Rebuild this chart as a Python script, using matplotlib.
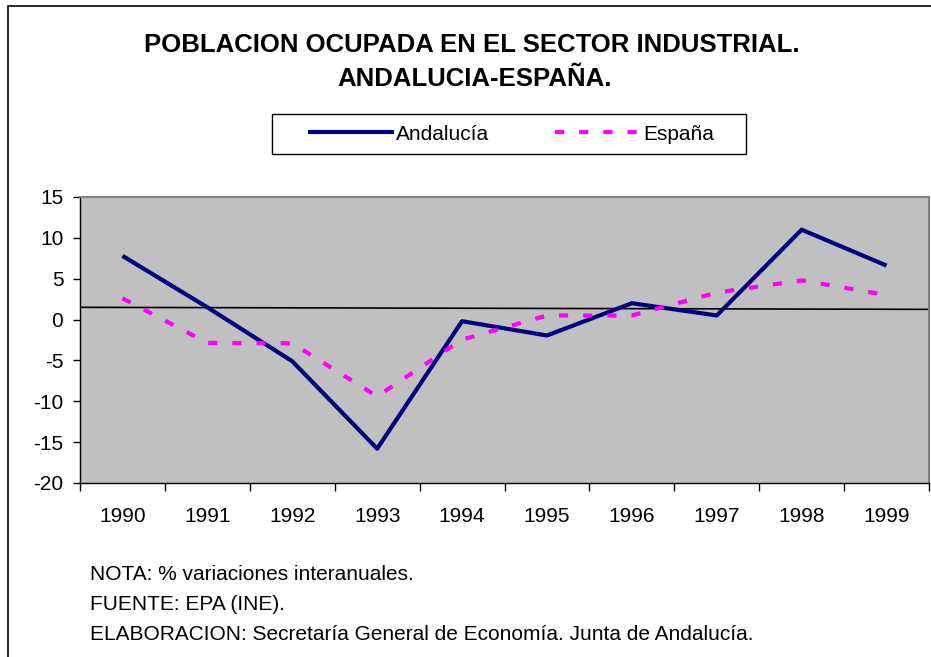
import matplotlib.pyplot as plt
import numpy as np
from matplotlib.patches import Rectangle

# Data (% interannual variation)
years = ['1990', '1991', '1992', '1993', '1994', '1995', '1996', '1997', '1998', '1999']
andalucia = [7.8, 1.5, -5.1, -15.8, -0.2, -1.95, 2.0, 0.5, 11.0, 6.6]
espana = [2.6, -2.85, -2.9, -9.4, -2.45, 0.5, 0.5, 3.3, 4.8, 3.0]
ref_line = [1.5, 1.25]  # thin black reference line (left edge, right edge)
yticks = [-20, -15, -10, -5, 0, 5, 10, 15]

plt.rcParams['font.family'] = ['Liberation Sans', 'DejaVu Sans']

W, H = 931, 657
fig = plt.figure(figsize=(W / 100, H / 100), dpi=100)

# outer frame (cropped at right and bottom)
fig.patches.append(Rectangle((8 / W, -0.1), 1.2, 1 - 6 / H + 0.1,
                             transform=fig.transFigure, fill=False,
                             edgecolor='black', linewidth=1.2))

ax = fig.add_axes([80 / W, 1 - 483 / H, 849 / W, 286 / H])
ax.set_facecolor('#C0C0C0')

x = np.arange(len(years))
ax.plot([-0.5, len(years) - 0.5], ref_line, color='black', linewidth=1.2, zorder=2)
ax.plot(x, andalucia, color='#000080', linewidth=3.0, label='Andalucía',
        solid_capstyle='butt', zorder=3)
ax.plot(x, espana, color='#FF00FF', linewidth=3.0, dashes=(2.2, 3.6),
        label='España', zorder=3)

ax.set_xlim(-0.5, len(years) - 0.5)
ax.set_ylim(-20, 15)
ax.set_yticks(yticks)
ax.set_yticklabels([str(v) for v in yticks], fontsize=15)
ax.set_xticks(x)
ax.set_xticklabels(years, fontsize=15)
ax.set_xticks(np.arange(-0.5, len(years), 1), minor=True)
ax.tick_params(axis='x', which='major', length=0, pad=17)
ax.tick_params(axis='x', which='minor', length=6, width=1, direction='out')
ax.tick_params(axis='y', length=5, width=1, direction='out', pad=7)

for side in ['top', 'right']:
    ax.spines[side].set_color('#808080')
    ax.spines[side].set_linewidth(1.5)
for side in ['left', 'bottom']:
    ax.spines[side].set_color('black')
    ax.spines[side].set_linewidth(1.0)

fig.text(472 / W, 1 - 45 / H, 'POBLACION OCUPADA EN EL SECTOR INDUSTRIAL.',
         ha='center', va='center', fontsize=18.5, fontweight='bold')
fig.text(475 / W, 1 - 79 / H, 'ANDALUCIA-ESPAÑA.',
         ha='center', va='center', fontsize=18.5, fontweight='bold')

# legend box drawn separately, entries centred inside it
fig.patches.append(Rectangle((272 / W, 1 - 154 / H), 474 / W, 40 / H,
                             transform=fig.transFigure, facecolor='white',
                             edgecolor='black', linewidth=1.0, zorder=1))
leg = fig.legend(loc='center', bbox_to_anchor=(511 / W, 1 - 134 / H), ncol=2,
                 fontsize=15, frameon=False,
                 handlelength=4.1, handletextpad=0.1, columnspacing=3.2,
                 borderpad=0.2, borderaxespad=0)
leg.set_zorder(2)

notes = ['NOTA: % variaciones interanuales.',
         'FUENTE: EPA (INE).',
         'ELABORACION: Secretaría General de Economía. Junta de Andalucía.']
for i, n in enumerate(notes):
    fig.text(90 / W, 1 - (574 + 30 * i) / H, n, ha='left', va='center', fontsize=15)

fig.savefig('out.png', dpi=100)
